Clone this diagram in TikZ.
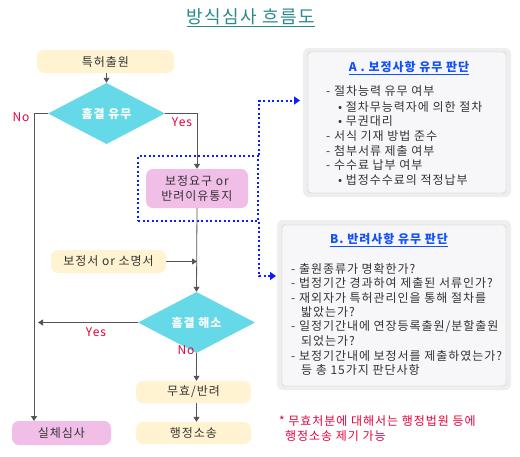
\documentclass[tikz,border=0pt]{standalone}
\usepackage{fontspec}
\setmainfont[LetterSpace=8]{Noto Sans CJK KR}
\usetikzlibrary{arrows.meta,shapes.geometric}
\definecolor{ylw}{HTML}{FFF3D2}
\definecolor{pnk}{HTML}{F0BEE6}
\definecolor{cyn}{HTML}{66D9E8}
\definecolor{lin}{HTML}{555555}
\definecolor{rd}{HTML}{E8003C}
\definecolor{blu}{HTML}{0A1EFF}
\definecolor{tealt}{HTML}{2A8A8A}
\definecolor{ttl}{HTML}{1050FF}
\definecolor{txt}{HTML}{333333}
\definecolor{boxbg}{HTML}{F7F7F9}
\definecolor{boxsh}{HTML}{EEEEEE}
\tikzset{
  base/.style={font=\fontsize{12}{14.5}\selectfont, text=txt, inner sep=0pt},
  term/.style={base, rounded corners=7pt, fill=ylw, minimum height=23pt},
  pinkbox/.style={base, rounded corners=7pt, fill=pnk, align=center},
  dia/.style={diamond, fill=cyn, text=white, font=\fontsize{12}{14}\selectfont\bfseries,
     inner sep=0pt, minimum width=117pt, minimum height=33pt},
  flow/.style={draw=lin, line width=0.8pt, -{Triangle[length=5pt,width=6pt]}},
  dots/.style={draw=blu, line width=2pt, dash pattern=on 2pt off 2.5pt},
  dotarrow/.style={dots, -{Triangle[length=6pt,width=8pt]}},
  lbl/.style={font=\fontsize{12}{14}\selectfont, text=rd, inner sep=0pt},
  tline/.style={base, anchor=west},
  btitle/.style={font=\fontsize{12}{14}\selectfont\bfseries, text=ttl, inner sep=0pt},
  outerbox/.style={fill=boxsh, rounded corners=6pt, inner sep=0pt},
  innerbox/.style={draw=gray!45, fill=boxbg, rounded corners=3pt, inner sep=0pt},
  note/.style={font=\fontsize{12}{14}\selectfont, text=rd, inner sep=0pt, anchor=west}
}
\begin{document}
\begin{tikzpicture}[x=1pt,y=-1pt]
\useasboundingbox[fill=white] (0,0) rectangle (520,456);
% title
\node[font=\fontsize{18}{20}\selectfont, text=tealt, inner sep=0pt] (title) at (251,18) {\underline{방식심사 흐름도}};

% flow nodes
\node[term, minimum width=137pt] (app) at (105.5,61.5) {특허출원};
\node[dia] (d1) at (106.5,113.5) {흠결 유무};
\node[dots, minimum width=120pt, minimum height=65pt, inner sep=0pt] (dbox) at (198,188.5) {};
\node[pinkbox, minimum width=102pt, minimum height=39pt] (req) at (197,188.5) {보정요구 or\\반려이유통지};
\node[term, minimum width=115pt] (resp) at (108.5,261.5) {보정서 or 소명서};
\node[dia] (d2) at (196.5,322.5) {흠결 해소};
\node[term, minimum width=115pt, minimum height=22pt] (inv) at (193.5,392) {무효/반려};
\node[term, minimum width=115pt, minimum height=22pt] (suit) at (193.5,433) {행정소송};
\node[pinkbox, minimum width=99pt, minimum height=24pt] (sub) at (61.5,433) {실체심사};

\coordinate (noend) at (34,421);
\coordinate (yesend) at (38,322.5);

% connectors
\draw[flow] (app.south -| d1.north) -- (d1.north);
\draw[flow] (d1.west) -| (noend);
\draw[flow] (d1.east) -| (req.north);
\draw[flow] (req.south) -- (d2.north);
\draw[flow] (resp.east) -- (resp.east -| req.south);
\draw[flow] (d2.west) -- (yesend);
\draw[flow] (d2.south) -- (d2.south |- inv.north);
\draw[flow] (inv.south -| d2.south) -- (suit.north -| d2.south);

% labels
\node[lbl] (lno1) at (21,117) {No};
\node[lbl] (lyes1) at (182,122) {Yes};
\node[lbl] (lyes2) at (96,332) {Yes};
\node[lbl] (lno2) at (186,350) {No};

% box A
\node[outerbox, minimum width=208pt, minimum height=149pt] (boxAo) at (407,122.5) {};
\node[innerbox, minimum width=198pt, minimum height=141pt] (boxA) at (407,122.5) {};
\node[btitle] (tA) at (409,68) {\underline{A . 보정사항 유무 판단}};
\node[tline] (a1) at (326,91) {- 절차능력 유무 여부};
\node[tline] (a2) at (338,107) {• 절차무능력자에 의한 절차};
\node[tline] (a3) at (338,121) {• 무권대리};
\node[tline] (a4) at (326,136) {- 서식 기재 방법 준수};
\node[tline] (a5) at (326,151) {- 첨부서류 제출 여부};
\node[tline] (a6) at (326,165) {- 수수료 납부 여부};
\node[tline] (a7) at (338,180) {• 법정수수료의 적정납부};

% box B
\node[outerbox, minimum width=234pt, minimum height=170pt] (boxBo) at (394,305) {};
\node[innerbox, minimum width=224pt, minimum height=161pt] (boxB) at (394,305.5) {};
\node[btitle] (tB) at (389,240) {\underline{B. 반려사항 유무 판단}};
\node[tline] (b1) at (291,269) {- 출원종류가 명확한가?};
\node[tline] (b2) at (291,283) {- 법정기간 경과하여 제출된 서류인가?};
\node[tline] (b3) at (291,298) {- 재외자가 특허관리인을 통해 절차를};
\node[tline] (b3b) at (301,312) {밟았는가?};
\node[tline] (b4) at (291,327) {- 일정기간내에 연장등록출원/분할출원};
\node[tline] (b4b) at (301,341) {되었는가?};
\node[tline] (b5) at (291,356) {- 보정기간내에 보정서를 제출하였는가?};
\node[tline] (b5b) at (301,370) {등 총 15가지 판단사항};

% dotted connectors
\coordinate (aA) at (300,100.5);
\coordinate (aB) at (276,276);
\draw[dotarrow] (dbox.north east) |- (aA);
\draw[dotarrow] (dbox.south east) |- (aB);

% footnote
\node[note] (n1) at (279,421) {* 무효처분에 대해서는 행정법원 등에};
\node[note] (n2) at (285,436) {행정소송 제기 가능};
\end{tikzpicture}
\end{document}
